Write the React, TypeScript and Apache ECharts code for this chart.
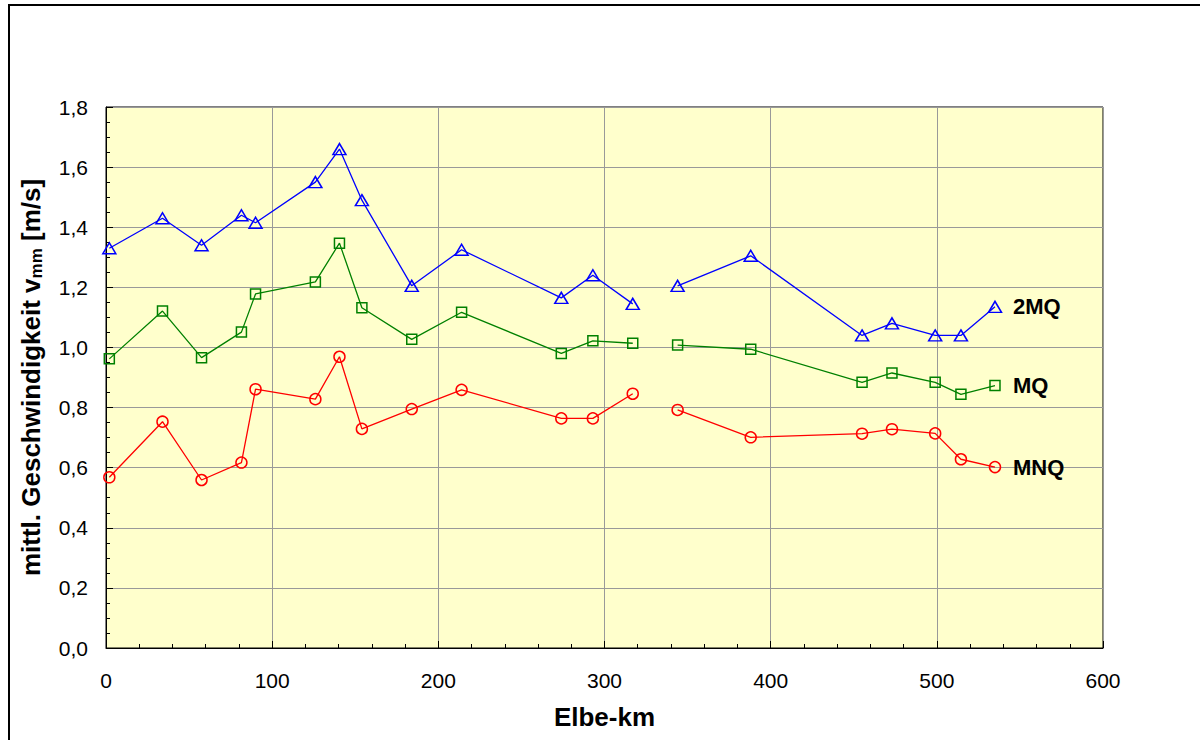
import React, { useEffect, useRef } from "react";
import * as echarts from "echarts";

// Elbe-km positions of the measuring sections
const km = [2, 34, 57.5, 81.5, 90, 126, 140.5, 154, 184, 214, 274, 293, 317, 344, 388, 455, 473, 499, 514.5, 535];
// a gap in the lines lies between these two km
const gapAfterKm = 317;

const q2MQ = [1.33, 1.43, 1.34, 1.44, 1.415, 1.55, 1.66, 1.49, 1.205, 1.325, 1.165, 1.24, 1.145, 1.205, 1.305, 1.04, 1.08, 1.04, 1.04, 1.135];
const qMQ = [0.962, 1.121, 0.966, 1.051, 1.178, 1.218, 1.347, 1.132, 1.027, 1.117, 0.98, 1.022, 1.014, 1.008, 0.994, 0.884, 0.915, 0.884, 0.844, 0.873];
const qMNQ = [0.568, 0.753, 0.559, 0.617, 0.861, 0.828, 0.969, 0.729, 0.795, 0.859, 0.764, 0.764, 0.846, 0.792, 0.701, 0.713, 0.728, 0.714, 0.628, 0.602];

const seriesNames = ["2MQ", "MQ", "MNQ"];
const seriesValues = [q2MQ, qMQ, qMNQ];
const seriesColors = ["#0000FF", "#008000", "#FF0000"];
const seriesSymbols = ["triangle", "rect", "circle"];
const seriesSymbolSizes: any[] = [[13, 11], 10, 11];

const xTicks = { min: 0, max: 600, interval: 100 };
const yTicks = { min: 0, max: 1.8, interval: 0.2 };

function buildData(values: number[]) {
  const out: any[] = [];
  km.forEach((k, i) => {
    out.push([k, values[i]]);
    if (k === gapAfterKm) out.push(["-", "-"]);
  });
  return out;
}

export default function App() {
  const ref = useRef<HTMLDivElement>(null);
  useEffect(() => {
    if (!ref.current) return;
    const chart = echarts.init(ref.current, undefined, { renderer: "svg" });
    const font = "'Liberation Sans', Arial, sans-serif";
    chart.setOption({
      animation: false,
      textStyle: { fontFamily: font },
      graphic: [
        {
          type: "rect",
          shape: { x: 9, y: 5, width: 1300, height: 800 },
          style: { fill: "none", stroke: "#000", lineWidth: 2 },
          silent: true,
        },
      ],
      grid: {
        left: 106,
        right: 97,
        top: 107,
        bottom: 92,
        show: true,
        backgroundColor: "#FFFFCC",
        borderColor: "#000",
        borderWidth: 1,
      },
      xAxis: {
        type: "value",
        min: xTicks.min,
        max: xTicks.max,
        interval: xTicks.interval,
        name: "Elbe-km",
        nameLocation: "middle",
        nameGap: 56,
        nameTextStyle: { fontSize: 26, fontWeight: "bold", color: "#000", fontFamily: font },
        axisLine: { show: true, lineStyle: { color: "#000", width: 1 } },
        axisTick: { show: true, inside: true, length: 7, lineStyle: { color: "#000" } },
        minorTick: { show: true, splitNumber: 5, length: 4, lineStyle: { color: "#000" } },
        axisLabel: { fontSize: 21, color: "#000", margin: 22, fontFamily: font },
        splitLine: { show: true, lineStyle: { color: "#999999", width: 1 } },
      },
      yAxis: {
        type: "value",
        min: yTicks.min,
        max: yTicks.max,
        interval: yTicks.interval,
        name: "mittl. Geschwindigkeit v{sub|mm} [m/s]",
        nameLocation: "middle",
        nameGap: 61,
        nameTextStyle: {
          fontSize: 26,
          fontWeight: "bold",
          color: "#000",
          fontFamily: font,
          rich: {
            sub: { fontSize: 17, fontWeight: "bold", color: "#000", fontFamily: font, verticalAlign: "bottom", padding: [11, 0, 0, 0] },
          },
        },
        axisLine: { show: true, lineStyle: { color: "#000", width: 1 } },
        axisTick: { show: true, inside: true, length: 7, lineStyle: { color: "#000" } },
        minorTick: { show: true, splitNumber: 4, length: 4, lineStyle: { color: "#000" } },
        axisLabel: {
          fontSize: 21,
          color: "#000",
          margin: 18,
          fontFamily: font,
          formatter: (v: number) => v.toFixed(1).replace(".", ","),
        },
        splitLine: { show: true, lineStyle: { color: "#999999", width: 1 } },
      },
      series: seriesNames.map((name, i) => ({
        name,
        type: "line",
        data: buildData(seriesValues[i]),
        connectNulls: false,
        symbol: seriesSymbols[i],
        symbolSize: seriesSymbolSizes[i],
        showAllSymbol: true,
        lineStyle: { color: seriesColors[i], width: 1.3 },
        itemStyle: { color: "rgba(0,0,0,0)", borderColor: seriesColors[i], borderWidth: 1.5 },
        emphasis: { disabled: true },
        endLabel: {
          show: true,
          formatter: name,
          distance: 18,
          color: "#000",
          fontSize: 22,
          fontWeight: "bold",
          fontFamily: font,
        },
      })),
    });
    return () => chart.dispose();
  }, []);
  return (
    <div
      ref={ref}
      style={{ position: "absolute", left: 0, top: 0, width: 1200, height: 740, background: "#fff" }}
    />
  );
}
